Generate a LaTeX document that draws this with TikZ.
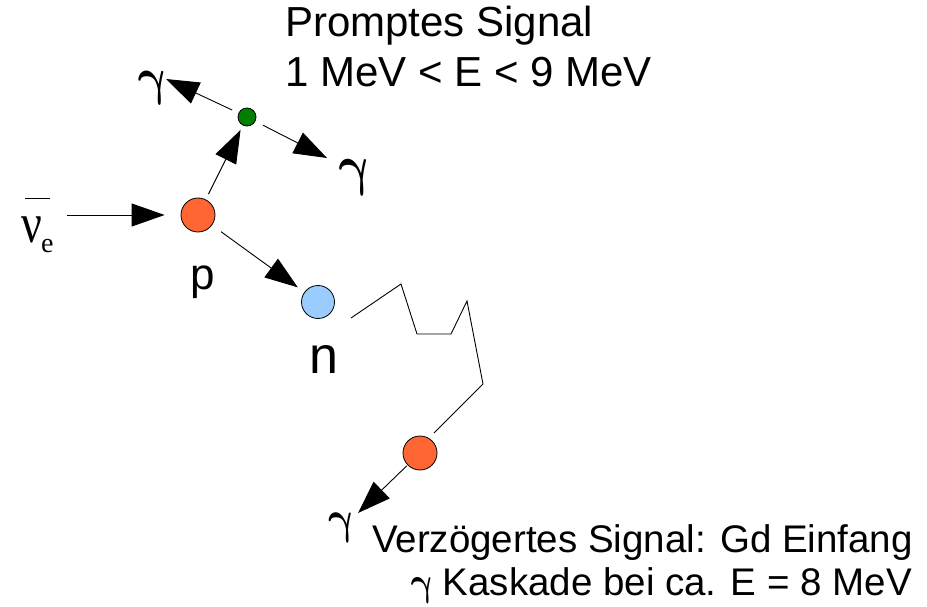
\RequirePackage{fix-cm}
\documentclass[tikz,border=0pt]{standalone}
\usepackage{fontspec}
\setmainfont{Liberation Sans}
\newfontfamily\greekserif{Liberation Serif}
\usetikzlibrary{arrows.meta}

\definecolor{protonorange}{HTML}{FF6633}
\definecolor{neutronblue}{HTML}{99CCFF}
\definecolor{vertexgreen}{HTML}{008000}

% looped bold gamma of a given size (slot 13 of the math italic font)
\newcommand{\gammaglyph}[1]{\fontsize{#1}{#1}\usefont{OML}{cmm}{b}{it}\char13\relax}

\begin{document}
\begin{tikzpicture}[x=1pt,y=-1pt,
  particle/.style={circle,draw=black,line width=0.8pt,inner sep=0pt},
  arr/.style={line width=0.9pt,-{Triangle[length=33pt,width=23pt]}},
  trail/.style={line width=0.9pt},
  toplbl/.style={inner sep=0pt,font=\fontsize{42}{50}\selectfont},
  botlbl/.style={inner sep=0pt,font=\fontsize{38.5}{44}\selectfont},
  gam/.style={inner sep=0pt,xslant=-0.22,xscale=0.85}]
\useasboundingbox (0,0) rectangle (927,607);

% particles
\node[particle,fill=protonorange,minimum size=34pt] (p) at (198,215) {};
\node[particle,fill=vertexgreen,minimum size=18pt] (g) at (247,117) {};
\node[particle,fill=neutronblue,minimum size=33pt] (n) at (318,302) {};
\node[particle,fill=protonorange,minimum size=34pt] (gd) at (420,453) {};

% incoming antineutrino
\node[inner sep=0pt,anchor=base west,yscale=1.22,
  font=\greekserif\fontsize{46}{46}\selectfont] (nu) at (21,243) {ν};
\node[inner sep=0pt,anchor=base west,
  font=\greekserif\fontsize{28}{28}\selectfont] (nue) at (41,252) {e};
\draw[line width=0.9pt] (25,198) -- (50,198);
\coordinate (nutail) at (67,215);
\draw[arr,shorten >=16pt] (nutail) -- (p);

% prompt annihilation
\draw[arr,shorten <=6pt,shorten >=5pt] (p) -- (g);
\coordinate (gltip) at (166,79);
\coordinate (grtip) at (327,158);
\draw[arr,shorten <=7pt] (g) -- (gltip);
\draw[arr,shorten <=8.5pt] (g) -- (grtip);
\node[gam,anchor=base west] (gl) at (141,95) {\gammaglyph{52}};
\node[gam,anchor=base west] (gr) at (342,185) {\gammaglyph{56}};

% neutron
\draw[arr,shorten <=11pt,shorten >=8pt] (p) -- (n);
\node[inner sep=0pt,anchor=base west,font=\fontsize{44}{44}\selectfont] (plabel) at (190,289) {p};
\node[inner sep=0pt,anchor=base west,font=\fontsize{52}{52}\selectfont] (nlabel) at (309,373) {n};

% neutron random walk to capture
\draw[trail] (351,318) -- (401,284) -- (417,334) -- (451,334) -- (467,301)
  -- (483,384) -- (434,433);

% delayed capture gamma
\coordinate (gdtip) at (358,513);
\draw[arr,shorten <=1pt] (gd) -- (gdtip);
\node[gam,anchor=base west] (gb) at (331,533) {\gammaglyph{46}};

% text
\node[toplbl,anchor=base west] (prompt1) at (285,37) {Promptes Signal};
\node[toplbl,anchor=base west] (prompt2) at (285,87) {1 MeV < E < 9 MeV};
\node[botlbl,anchor=base east] (delay1) at (913,552) {Verzögertes Signal: Gd Einfang};
\node[botlbl,anchor=base east] (delay2) at (912,595) {Kaskade bei ca. E = 8 MeV};
\node[gam,anchor=base east] (cascgam) at ([xshift=-9pt]delay2.base west) {\gammaglyph{40}};
\end{tikzpicture}
\end{document}
